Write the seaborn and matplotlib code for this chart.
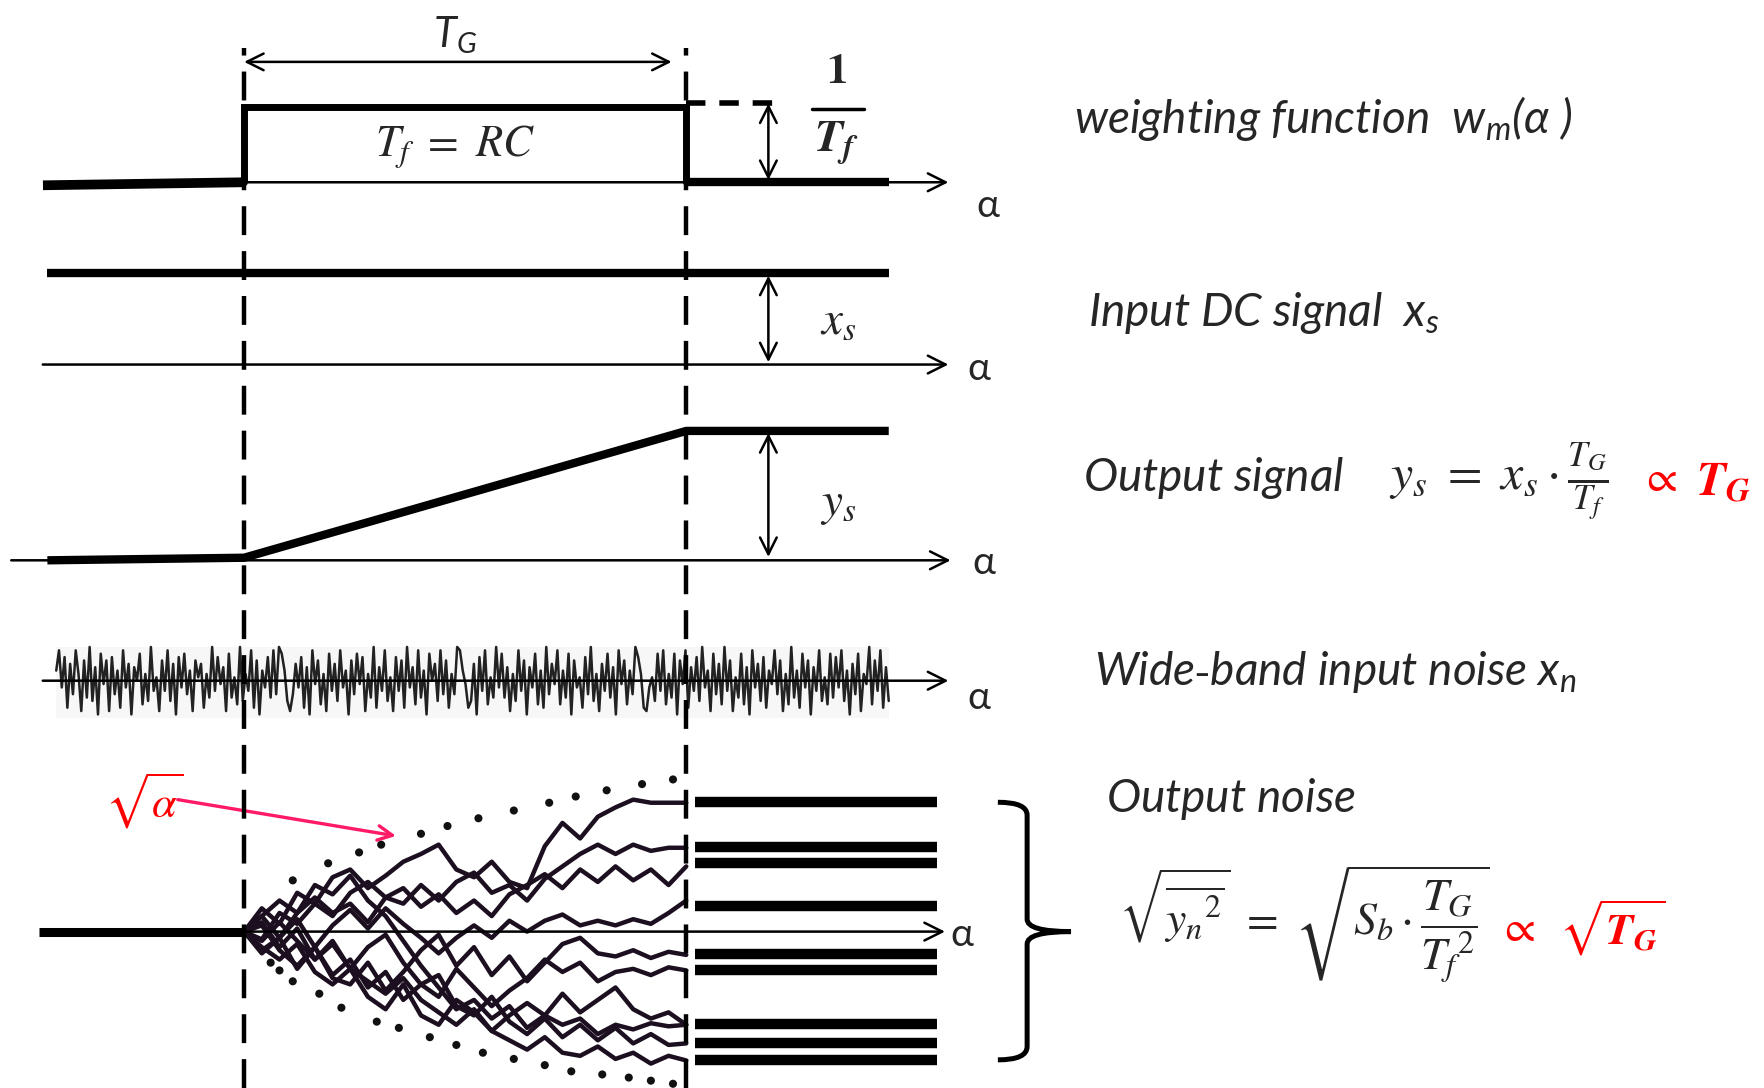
import numpy as np
import pandas as pd
import matplotlib
matplotlib.use("Agg")
import matplotlib.pyplot as plt
import seaborn as sns
from matplotlib.path import Path
from matplotlib.patches import PathPatch

sns.set_theme(style="white")
plt.rcParams.update({
    "mathtext.fontset": "custom",
    "mathtext.rm": "STIXGeneral",
    "mathtext.it": "STIXGeneral:italic",
    "mathtext.bf": "STIXGeneral:italic:bold",
    "mathtext.sf": "Lato:italic",
    "mathtext.fallback": "stix",
})
plt.rcParams["font.family"] = ["Lato", "DejaVu Sans"]

# alpha is measured in units of the gate time T_G (gate open on [0, 1])
w_alpha = [-0.455, 0.0, 0.0, 1.0, 1.0, 1.458]
w_value = [-0.04, 0.0, 1.0, 1.0, 0.0, 0.0]

dc_alpha = [-0.445, 1.458]
dc_value = [1.0, 1.0]

ys_alpha = [-0.445, 0.0, 1.0, 1.458]
ys_value = [0.0, 0.02, 1.0, 1.0]

# wide-band input noise (tenths of the full amplitude)
noise_x10 = [
    3, 9, -2, 7, -8, 5, -4, 9, 2, -9, 6, -5, 10, -6, 4, -10, 8, -1, 6, -9,
    7, -4, 3, -8, 9, -2, 5, -10, 4, 0, 8, -7, 2, -6, 10, -3, 1, -9, 6, -3,
    9, -6, 5, -10, 7, -2, 8, -4, 3, -9, 6, 1, 5, -8, 2, -5, 10, -3, 7, -1,
    4, -9, 8, -5, 1, -7, 10, -6, 2, -3, 9, -8, 6, -10, 3, -2, 7, -5, 9, -4,
    10, 8, 3, -6, -9, -4, 5, -2, 7, -8, 4, -10, 9, -1, 6, -7, 2, -9, 8, -3,
    5, -6, 9, -2, 3, -10, 6, -4, 8, -1, 7, -9, 2, -5, 10, -8, 4, -3, 9, -6,
    1, -9, 7, -3, 6, -8, 10, -2, 4, -7, 9, -5, 3, -10, 8, 0, 5, -6, 9, -4,
    6, -8, 2, -4, 10, 9, 3, -1, -8, -6, 5, -10, 7, -3, 9, -7, 1, -5, 10, -2,
    8, -5, 4, -9, 2, -6, 9, -3, 6, -10, 4, -2, 8, -7, 3, -8, 10, -4, 5, -1,
    9, -7, 3, -5, 8, -10, 6, -2, 1, -8, 7, -4, 10, -6, 2, -9, 5, -3, 8, -5,
    4, -10, 9, -1, 6, -7, 3, -4, 10, 7, 2, -8, -9, -2, 1, -6, 8, -3, 9, -7,
    2, -5, 8, -10, 6, -1, 9, -8, 4, -3, 7, -6, 10, -2, 3, -9, 8, -4, 5, -7,
    10, -3, 6, -9, 1, -5, 8, -7, 4, -10, 9, -2, 5, -6, 7, -8, 3, -1, 9, -4,
    6, -9, 2, -7, 10, -5, 3, -8, 8, -2, 6, -10, 4, -3, 9, -6, 1, -7, 8, -5,
    7, -2, 9, -6, 3, -10, 5, -4, 8, -9, 2, -1, 10, -7, 6, -3, 9, -8, 4, -6,
]
noise_start, noise_end = -0.425, 1.458

# output noise: random-walk paths sampled on the gate
walk_alpha = [0.0, 0.04, 0.08, 0.12, 0.16, 0.2, 0.24, 0.28, 0.32, 0.36, 0.4, 0.44, 0.48,
              0.52, 0.56, 0.6, 0.64, 0.68, 0.72, 0.76, 0.8, 0.84, 0.88, 0.92, 0.96, 1.0]
walks = {
    "A": [0, .15, .05, .25, .18, .35, .4, .28, .36, .45, .5, .56, .4, .35, .45, .32, .28, .55, .7, .6, .74, .8, .85, .83, .83, .83],
    "B": [0, -.05, .12, .05, .18, .1, .25, .32, .22, .18, .3, .2, .32, .38, .25, .3, .2, .34, .42, .5, .56, .5, .56, .52, .54, .54],
    "C": [0, .1, -.04, .12, .22, .12, .18, .06, .22, .28, .16, .24, .12, .2, .1, .24, .3, .37, .28, .4, .32, .42, .33, .4, .3, .42],
    "D": [0, -.12, -.04, .08, -.1, .04, .14, .02, .15, .05, -.04, -.14, -.04, .04, -.04, .07, .0, .07, .11, .04, .07, .04, .08, .05, .12, .2],
    "E": [0, -.14, -.04, -.24, -.1, -.3, -.34, -.2, -.38, -.26, -.12, -.02, -.22, -.1, -.28, -.16, -.32, -.2, -.08, -.04, -.14, -.16, -.12, -.17, -.13, -.15],
    "F": [0, .06, -.1, .02, -.18, -.08, -.24, -.1, -.02, -.2, -.34, -.42, -.24, -.36, -.48, -.38, -.3, -.18, -.26, -.2, -.32, -.26, -.24, -.28, -.23, -.25],
    "G": [0, -.1, -.18, -.08, -.26, -.34, -.24, -.42, -.5, -.34, -.54, -.6, -.44, -.52, -.64, -.54, -.46, -.54, -.4, -.52, -.44, -.36, -.5, -.56, -.52, -.6],
    "H": [0, .04, -.12, -.22, -.1, -.28, -.18, -.36, -.26, -.44, -.34, -.28, -.48, -.54, -.42, -.58, -.66, -.56, -.68, -.6, -.7, -.62, -.72, -.66, -.73, -.72],
    "I": [0, -.06, .06, -.06, -.18, -.06, -.24, -.32, -.4, -.3, -.44, -.52, -.6, -.5, -.64, -.7, -.76, -.68, -.78, -.8, -.74, -.82, -.78, -.85, -.8, -.83],
    "J": [0, .1, .2, .12, .3, .24, .36, .2, .1, -.06, -.22, -.36, -.5, -.44, -.56, -.48, -.62, -.54, -.6, -.56, -.66, -.6, -.63, -.59, -.61, -.6],
}
hold_levels = [0.833, 0.543, 0.442, 0.167, -0.145, -0.246, -0.594, -0.717, -0.826]

env_up_alpha = [0.11, 0.19, 0.26, 0.31, 0.40, 0.46, 0.53, 0.61, 0.69, 0.75, 0.82, 0.90, 0.97]
env_up_value = [0.33, 0.44, 0.51, 0.56, 0.63, 0.68, 0.73, 0.78, 0.83, 0.87, 0.91, 0.95, 0.98]
env_dn_alpha = [0.06, 0.08, 0.11, 0.17, 0.22, 0.30, 0.35, 0.42, 0.48, 0.54, 0.61, 0.68, 0.74, 0.81, 0.87, 0.92, 0.97]
env_dn_value = [-0.2, -0.25, -0.32, -0.4, -0.49, -0.58, -0.62, -0.68, -0.73, -0.78, -0.82, -0.86, -0.90, -0.92, -0.94, -0.96, -0.98]

# ---- layout ----
W, H = 1568.0, 967.0          # layout grid
X0, UNIT = 217.0, 393.0       # gate start and gate length on the grid
XLIM = (-X0 / UNIT, (W - X0) / UNIT)
INK = "#000000"
WALK = "#1c1020"
RED = "#ff0000"
CAP = 33

fig = plt.figure(figsize=(17.64, 10.88), dpi=100)


def panel(top, bot, base, unit):
    ax = fig.add_axes([0, 1 - bot / H, 1, (bot - top) / H])
    ax.set_xlim(*XLIM)
    ax.set_ylim((base - bot) / unit, (base - top) / unit)
    ax.set_axis_off()
    ax.patch.set_alpha(0)
    return ax


def axis_arrow(ax, a0, a1, y=0.0):
    ax.annotate("", xy=(a1, y), xytext=(a0, y),
                arrowprops=dict(arrowstyle="->", lw=1.8, color=INK, mutation_scale=32,
                                shrinkA=0, shrinkB=0))


def dbl_arrow(ax, x0, y0, x1, y1, lw=1.8):
    ax.annotate("", xy=(x1, y1), xytext=(x0, y0),
                arrowprops=dict(arrowstyle="<->", lw=lw, color=INK, mutation_scale=30,
                                shrinkA=0, shrinkB=0))


def ax_a(x):
    return (x - X0) / UNIT


# panel 1: weighting function
ax1 = panel(0, 200, 162, 67)
axis_arrow(ax1, 0.0, ax_a(843))
ax1.plot(w_alpha[:2], w_value[:2], color=INK, lw=7, solid_capstyle="butt")
ax1.plot(w_alpha[1:5], w_value[1:5], color=INK, lw=5, solid_joinstyle="miter")
ax1.plot(w_alpha[4:], w_value[4:], color=INK, lw=6, solid_capstyle="butt")
ax1.plot([1.0, ax_a(695)], [1.045, 1.045], color=INK, lw=4, dashes=(3.5, 2.5))
dbl_arrow(ax1, ax_a(683), 0.03, ax_a(683), 1.045)
dbl_arrow(ax1, 0.0, 1.597, ax_a(597), 1.597, lw=1.8)
ax1.text(0.478, 1.95, r"$\mathsf{T_G}$", fontsize=30, ha="center", va="center")
ax1.text(0.476, 0.47, r"$T_f\ =\ RC$", fontsize=32, ha="center", va="center")
ax1.text(ax_a(744), 1.45, "1", fontsize=31, ha="center", va="center",
         family="STIXGeneral", weight="bold")
ax1.plot([ax_a(722), ax_a(768)], [0.97, 0.97], color=INK, lw=2.5)
ax1.text(ax_a(744), 0.52, r"$\mathbf{T_f}$", fontsize=33, ha="center", va="center")
ax1.text(ax_a(878), -0.31, "α", fontsize=28, ha="center", va="center")

# panel 2: input DC signal
ax2 = panel(200, 360, 324, 81)
axis_arrow(ax2, ax_a(38), ax_a(843))
ax2.plot(dc_alpha, dc_value, color=INK, lw=6, solid_capstyle="butt")
dbl_arrow(ax2, ax_a(683), 0.025, ax_a(683), 0.975)
ax2.text(ax_a(745), 0.48, r"$x_s$", fontsize=34, ha="center", va="center")
ax2.text(ax_a(870), -0.05, "α", fontsize=28, ha="center", va="center")

# panel 3: output signal
ax3 = panel(360, 530, 498, 115)
axis_arrow(ax3, ax_a(10), ax_a(845))
ax3.plot(ys_alpha, ys_value, color=INK, lw=6, solid_capstyle="butt")
dbl_arrow(ax3, ax_a(683), 0.026, ax_a(683), 0.983)
ax3.text(ax_a(745), 0.42, r"$y_s$", fontsize=34, ha="center", va="center")
ax3.text(ax_a(875), -0.02, "α", fontsize=28, ha="center", va="center")

# panel 4: wide-band input noise
ax4 = panel(530, 670, 605, 30)
noise = np.array(noise_x10) / 10.0
noise_alpha = np.linspace(noise_start, noise_end, len(noise))
ax4.axhspan(-1.1, 1.0, xmin=(noise_start - XLIM[0]) / (XLIM[1] - XLIM[0]),
            xmax=(noise_end - XLIM[0]) / (XLIM[1] - XLIM[0]), color="#f7f7f7", lw=0)
sns.lineplot(x=noise_alpha, y=noise, ax=ax4, color="#222222", lw=1.8)
axis_arrow(ax4, ax_a(38), ax_a(843))
ax4.text(ax_a(870), -0.5, "α", fontsize=28, ha="center", va="center")
ax4.set_axis_off()

# panel 5: output noise
ax5 = panel(670, 967, 828, 138)
walk_df = pd.DataFrame([(k, a, v) for k, vals in walks.items() for a, v in zip(walk_alpha, vals)],
                       columns=["path", "alpha", "value"])
sns.scatterplot(x=env_up_alpha + env_dn_alpha, y=env_up_value + env_dn_value, ax=ax5,
                color="#111111", s=34, edgecolor="none")
sns.lineplot(data=walk_df, x="alpha", y="value", units="path", estimator=None,
             color=WALK, lw=3.2, ax=ax5, sort=False)
for lvl in hold_levels:
    ax5.plot([ax_a(618), ax_a(833)], [lvl, lvl], color=INK, lw=7.5, solid_capstyle="butt")
ax5.plot([ax_a(35), 0.0], [0, 0], color=INK, lw=6.5, solid_capstyle="butt")
axis_arrow(ax5, 0.0, ax_a(840))
ax5.text(ax_a(855), -0.02, "α", fontsize=28, ha="center", va="center")
ax5.text(ax_a(128), 0.84, r"$\sqrt{\alpha}$", fontsize=32, ha="center", va="center", color=RED)
ax5.annotate("", xy=(ax_a(352), 0.616), xytext=(ax_a(158), 0.85),
             arrowprops=dict(arrowstyle="->", lw=2.4, color="#ff1a66", mutation_scale=26,
                             shrinkA=0, shrinkB=0))
bx, tip = ax_a(913), ax_a(952)
brace = Path([(ax_a(887), 0.833), (bx, 0.833), (bx, 0.75), (bx, 0.08), (bx, 0.0), (tip, 0.0),
              (bx, 0.0), (bx, -0.08), (bx, -0.74), (bx, -0.826), (ax_a(887), -0.826)],
             [Path.MOVETO, Path.CURVE3, Path.CURVE3, Path.LINETO, Path.CURVE3, Path.CURVE3,
              Path.CURVE3, Path.CURVE3, Path.LINETO, Path.CURVE3, Path.CURVE3])
ax5.add_patch(PathPatch(brace, fill=False, lw=3.6, color=INK))
ax5.set_axis_off()

# dashed gate markers across all panels
bg = fig.add_axes([0, 0, 1, 1])
bg.set_xlim(*XLIM)
bg.set_ylim(0, 1)
bg.set_axis_off()
bg.patch.set_alpha(0)
for g in (0.0, 1.0):
    bg.plot([g, g], [0, 1 - 43 / H], color=INK, lw=3.2, dashes=(6.5, 3.6))

# right-hand captions
def cap(x, y, s, **kw):
    fig.text(x / W, 1 - y / H, s, ha="left", va="center", **kw)


cap(955, 105, r"$\mathsf{weighting\ function\ \ w_m(\alpha\ )}$", fontsize=CAP)
cap(967, 278, r"$\mathsf{Input\ DC\ signal\ \ x_s}$", fontsize=CAP)
cap(963, 425, r"$\mathsf{Output\ signal}$", fontsize=CAP)
cap(1235, 428, r"$y_s\ =\ x_s\cdot\frac{T_G}{T_f}$", fontsize=36)
cap(1458, 425, r"$\propto$", fontsize=32, color=RED)
cap(1508, 428, r"$\mathbf{T_G}$", fontsize=34, color=RED)
cap(972, 597, r"$\mathsf{Wide\text{-}band\ input\ noise\ x_n}$", fontsize=CAP)
cap(983, 710, r"$\mathsf{Output\ noise}$", fontsize=CAP)
cap(995, 822, r"$\sqrt{\overline{{y_n}^2}}\ =\ \sqrt{S_b\cdot\dfrac{T_G}{{T_f}^2}}$", fontsize=33)
cap(1332, 825, r"$\propto$", fontsize=32, color=RED)
cap(1386, 825, r"$\sqrt{\mathbf{T_G}}$", fontsize=32, color=RED)

fig.savefig("out.png", dpi=100, facecolor="white")
